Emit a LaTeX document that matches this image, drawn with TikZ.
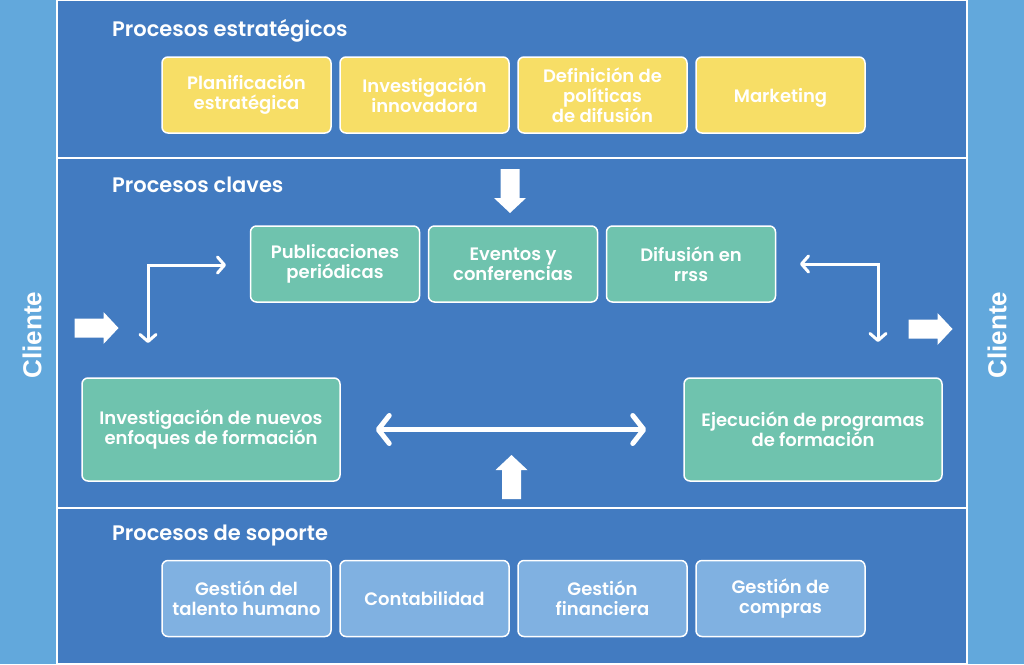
\documentclass[tikz,border=0pt]{standalone}
\usepackage{fontspec}
\setmainfont{Poppins}[BoldFont={Poppins SemiBold}]
\newfontfamily\clientefont{Liberation Sans}
\usetikzlibrary{arrows.meta,positioning}

\definecolor{fondo}{HTML}{427BC1}
\definecolor{lateral}{HTML}{62A8DC}
\definecolor{amarillo}{HTML}{F7DE66}
\definecolor{verde}{HTML}{6FC3AE}
\definecolor{celeste}{HTML}{80B1E1}

\begin{document}
\begin{tikzpicture}[x=1pt,y=-1pt,
  node distance=7.5pt,
  caja/.style={draw=white, line width=1.5pt, rounded corners=6pt,
    minimum width=169pt, minimum height=76pt, align=center, text=white,
    inner sep=0pt, font=\bfseries\fontsize{18}{20}\selectfont},
  estrat/.style={caja, fill=amarillo},
  clave/.style={caja, fill=verde},
  soporte/.style={caja, fill=celeste},
  grande/.style={clave, minimum width=258pt, minimum height=103pt},
  titulo/.style={anchor=base west, text=white, inner sep=0pt,
    font=\bfseries\fontsize{21}{24}\selectfont},
  cliente/.style={rotate=90, text=white, inner sep=0pt,
    font=\clientefont\bfseries\fontsize{26}{28}\selectfont},
  bloque/.pic={\fill[white] (-22,-9.5) -- (7,-9.5) -- (7,-16) -- (22,0)
    -- (7,16) -- (7,9.5) -- (-22,9.5) -- cycle;},
  flecha/.style={draw=white, line width=3pt, line cap=round,
    {Straight Barb[round, length=7pt, width=16pt]}-{Straight Barb[round, length=7pt, width=16pt]}}
]

\useasboundingbox (0,0) rectangle (1024,664);

% fondo y laterales
\fill[lateral] (0,0) rectangle (57,664);
\fill[lateral] (967,0) rectangle (1024,664);
\draw[white, line width=1.5pt, fill=fondo] (57,0) rectangle (967,664);
\draw[white, line width=1.5pt] (57,158) -- (967,158);
\draw[white, line width=1.5pt] (57,508) -- (967,508);

\node[cliente] (cli1) at (32,335) {Cliente};
\node[cliente] (cli2) at (997,335) {Cliente};

% procesos estrategicos
\node[titulo] (t1) at (112,36) {Procesos estratégicos};
\node[estrat] (plan) at (246.5,95) {Planificación\\estratégica};
\node[estrat, right=of plan] (inv) {Investigación\\innovadora};
\node[estrat, right=of inv] (def) {Definición de\\políticas\\de difusión};
\node[estrat, right=of def, text depth=0pt] (mkt) {Marketing};

% procesos claves
\node[titulo] (t2) at (112,192) {Procesos claves};
\node[clave] (pub) at (335,264) {Publicaciones\\periódicas};
\node[clave, right=of pub] (eve) {Eventos y\\conferencias};
\node[clave, right=of eve] (rrss) {Difusión en\\rrss};
\node[grande] (enf) at (211,429.5) {Investigación de nuevos\\enfoques de formación};
\node[grande] (prog) at (813,429.5) {Ejecución de programas\\de formación};

\pic at (96.5,328) {bloque};
\pic at (930.5,329) {bloque};
\pic[rotate=-90] at (510,191) {bloque};
\pic[rotate=90] at (511.5,477) {bloque};

\coordinate (a1) at (148,343);
\coordinate (a2) at (148,265);
\coordinate (a3) at (226,265);
\coordinate (b1) at (800,264);
\coordinate (b2) at (878,264);
\coordinate (b3) at (878,342);
\draw[flecha] (a1) -- (a2) -- (a3);
\draw[flecha] (b1) -- (b2) -- (b3);

\draw[draw=white, line width=5pt, line cap=round,
  {Straight Barb[round, length=11pt, width=28pt]}-{Straight Barb[round, length=11pt, width=28pt]},
  shorten <=35pt, shorten >=37pt] (enf.east) -- (prog.west);

% procesos de soporte
\node[titulo] (t3) at (112,540) {Procesos de soporte};
\node[soporte] (tal) at (246.5,598.5) {Gestión del\\talento humano};
\node[soporte, right=of tal] (con) {Contabilidad};
\node[soporte, right=of con] (fin) {Gestión\\financiera};
\node[soporte, right=of fin] (com) {Gestión de\\compras};

\end{tikzpicture}
\end{document}
